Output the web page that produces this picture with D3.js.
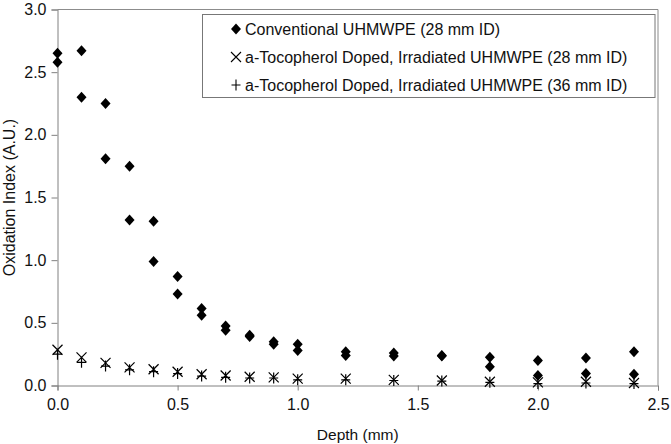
<!DOCTYPE html>
<html><head><meta charset="utf-8">
<script src="https://cdn.jsdelivr.net/npm/d3@7"></script>
<style>
html,body{margin:0;padding:0;background:#fff;}
text{font-family:"Liberation Sans",Arial,sans-serif;fill:#111;}
</style></head>
<body><svg id="c" width="671" height="444"></svg>
<script>
const depths = [0,0.1,0.2,0.3,0.4,0.5,0.6,0.7,0.8,0.9,1.0,1.2,1.4,1.6,1.8,2.0,2.2,2.4];
const convA = [2.65,2.67,2.25,1.75,1.31,0.87,0.615,0.475,0.40,0.35,0.33,0.27,0.26,0.24,0.225,0.20,0.22,0.27];
const convB = [2.58,2.30,1.81,1.32,0.99,0.73,0.56,0.44,0.39,0.33,0.28,0.24,0.235,0.235,0.15,0.08,0.095,0.09];
const toco28 = [0.285,0.225,0.18,0.145,0.13,0.11,0.09,0.08,0.07,0.065,0.055,0.055,0.045,0.04,0.03,0.025,0.03,0.02];
const toco36 = [0.25,0.185,0.155,0.125,0.11,0.095,0.075,0.065,0.06,0.06,0.045,0.045,0.04,0.035,0.025,0.015,0.02,0.015];
const xTicks = [0,0.5,1.0,1.5,2.0,2.5];
const yTicks = [0,0.5,1.0,1.5,2.0,2.5,3.0];
const legendLabels = ["Conventional UHMWPE (28 mm ID)","a-Tocopherol Doped, Irradiated UHMWPE (28 mm ID)","a-Tocopherol Doped, Irradiated UHMWPE (36 mm ID)"];

const svg = d3.select("#c");
const L=57.5, T=9.5, R=658, B=385.5;
const x = d3.scaleLinear().domain([0,2.5]).range([L,R]);
const y = d3.scaleLinear().domain([0,3]).range([B,T]);

// frame
svg.append("path").attr("d",`M${L},${T}H${R}V${B}`).attr("fill","none").attr("stroke","#8c8c8c").attr("stroke-width",1);

const xa = svg.append("g").attr("transform",`translate(0,${B})`)
  .call(d3.axisBottom(x).tickValues(xTicks).tickFormat(d3.format(".1f")).tickSize(5).tickPadding(8));
const ya = svg.append("g").attr("transform",`translate(${L},0)`)
  .call(d3.axisLeft(y).tickValues(yTicks).tickFormat(d3.format(".1f")).tickSize(6).tickPadding(5));
[xa,ya].forEach(a=>{
  a.select(".domain").attr("stroke","#808080");
  a.selectAll(".tick line").attr("stroke","#808080");
  a.selectAll("text").attr("font-size",16).attr("fill","#111").style("font-family","Liberation Sans, Arial, sans-serif");
});

svg.append("text").attr("x",(L+R)/2).attr("y",440).attr("text-anchor","middle").attr("font-size",15.5).text("Depth (mm)");
svg.append("text").attr("transform",`translate(15,${(T+B)/2}) rotate(-90)`).attr("text-anchor","middle").attr("font-size",16).text("Oxidation Index (A.U.)");

const diamond = "M0,-5.5L5,0L0,5.5L-5,0Z";
const cross = "M-5,-5L5,5M-5,5L5,-5";
const plus = "M-4.5,0H4.5M0,-5.5V5.5";

function drawSeries(vals, shape, filled){
  svg.append("g").selectAll("path").data(depths.map((d,i)=>[d,vals[i]])).join("path")
    .attr("transform",d=>`translate(${x(d[0])},${y(d[1])})`)
    .attr("d",shape)
    .attr("fill",filled?"#000":"none")
    .attr("stroke","#000")
    .attr("stroke-width",filled?0:1.2);
}
drawSeries(toco36, plus, false);
drawSeries(toco28, cross, false);
drawSeries(convA, diamond, true);
drawSeries(convB, diamond, true);

// legend
const lg = svg.append("g");
lg.append("rect").attr("x",202.5).attr("y",14.5).attr("width",452.5).attr("height",83).attr("fill","#fff").attr("stroke","#777").attr("stroke-width",1);
const shapes=[diamond,cross,plus];
legendLabels.forEach((t,i)=>{
  const cy = 29 + i*28;
  lg.append("path").attr("transform",`translate(236,${cy})`).attr("d",shapes[i])
    .attr("fill",i===0?"#000":"none").attr("stroke","#000").attr("stroke-width",i===0?0:1.1);
  lg.append("text").attr("x",245).attr("y",cy+6).attr("font-size",16).text(t);
});
</script></body></html>
